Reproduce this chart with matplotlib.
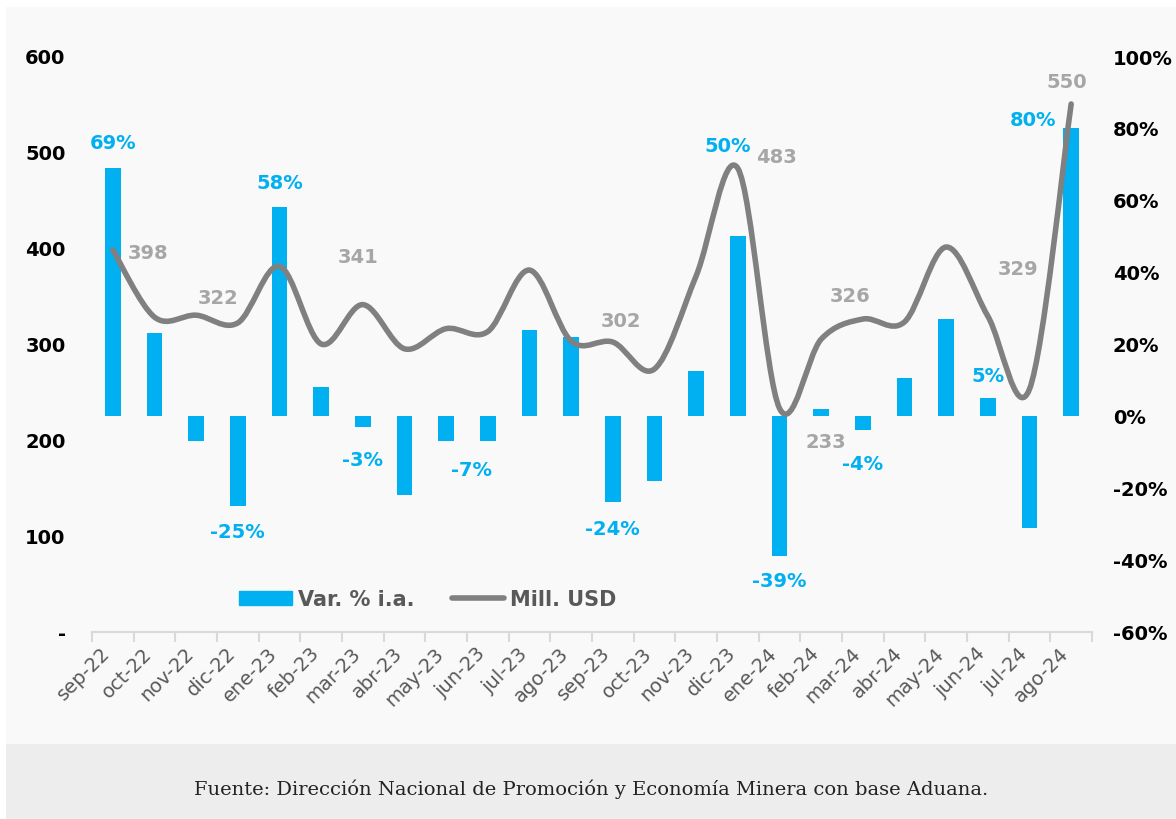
import matplotlib.pyplot as plt
import matplotlib.transforms as mtransforms
import numpy as np
from matplotlib.path import Path
from matplotlib.patches import PathPatch, Rectangle
from matplotlib.lines import Line2D

plt.rcParams['font.family'] = ['DejaVu Sans']

# datos
meses = ['sep-22', 'oct-22', 'nov-22', 'dic-22', 'ene-23', 'feb-23', 'mar-23', 'abr-23',
         'may-23', 'jun-23', 'jul-23', 'ago-23', 'sep-23', 'oct-23', 'nov-23', 'dic-23',
         'ene-24', 'feb-24', 'mar-24', 'abr-24', 'may-24', 'jun-24', 'jul-24', 'ago-24']
var_ia = [69, 23, -7, -25, 58, 8, -3, -22, -7, -7, 24, 22,
          -24, -18, 12.5, 50, -39, 2, -4, 10.5, 27, 5, -31, 80]
mill_usd = [398, 328, 330, 322, 381, 300, 341, 295, 316, 313, 377, 303,
            302, 274, 371, 483, 233, 305, 326, 323, 401, 329, 253, 550]

# etiquetas visibles: indice -> desplazamiento (px)
bar_lbl = {0: (0, 25), 4: (0, 25), 15: (-10, 90), 23: (-38, 8), 21: (0, 22),
           3: (0, -26), 6: (0, -33), 9: (-16, -28), 12: (0, -26), 16: (0, -24), 18: (0, -33)}
line_lbl = {0: (35, -3), 3: (-20, 25), 6: (-5, 48), 12: (8, 22), 15: (39, 12),
            16: (46, -33), 18: (-13, 24), 21: (30, 48), 23: (-4, 22)}

AZUL = '#00B0F0'
GRIS = '#808080'

fig = plt.figure(figsize=(11.76, 8.2), dpi=100)
fig.patches.append(Rectangle((6 / 1176, 75 / 820), 1, 737 / 820, transform=fig.transFigure,
                             facecolor='#F9F9F9', edgecolor='none', zorder=-10))
fig.patches.append(Rectangle((6 / 1176, 0), 1, 75 / 820, transform=fig.transFigure,
                             facecolor='#EDEDED', edgecolor='none', zorder=-10))

ax = fig.add_axes([92 / 1176, 1 - 633 / 820, 1000 / 1176, 576 / 820])
ax.patch.set_visible(False)
x = np.arange(len(meses))
ax.bar(x, var_ia, width=0.38, color=AZUL, zorder=2)
ax.set_xlim(-0.5, len(meses) - 0.5)
ax.set_ylim(-60, 100)

ax2 = ax.twinx()
ax2.set_ylim(0, 600)

ax.yaxis.tick_right()
ax.set_yticks(np.arange(-60, 101, 20))
ax.set_yticklabels([f'{v}%' for v in range(-60, 101, 20)])
ax2.yaxis.tick_left()
ax2.set_yticks(np.arange(0, 601, 100))
ax2.set_yticklabels(['-'] + [str(v) for v in range(100, 601, 100)])

# curva suavizada (bezier a partir de los puntos)
pts = np.column_stack([x, mill_usd]).astype(float)
verts = [pts[0]]
codes = [Path.MOVETO]
n = len(pts)
for i in range(n - 1):
    p0 = pts[max(i - 1, 0)]
    p1 = pts[i]
    p2 = pts[i + 1]
    p3 = pts[min(i + 2, n - 1)]
    verts += [p1 + (p2 - p0) / 6, p2 - (p3 - p1) / 6, p2]
    codes += [Path.CURVE4] * 3
ax2.add_patch(PathPatch(Path(verts, codes), fill=False, edgecolor=GRIS, lw=4,
                        capstyle='round', joinstyle='round', zorder=3))

for a in (ax, ax2):
    for s in a.spines.values():
        s.set_visible(False)
    a.tick_params(axis='y', length=0, labelsize=14)
    for t in a.get_yticklabels():
        t.set_fontweight('bold')
ax.tick_params(axis='y', pad=15, labelleft=False, labelright=True)
ax2.tick_params(axis='y', pad=19, labelleft=True, labelright=False)

ax.spines['bottom'].set_visible(True)
ax.spines['bottom'].set_color('#D9D9D9')
ax.spines['bottom'].set_linewidth(1.5)
ax.set_xticks(x)
ax.set_xticklabels(meses, rotation=45, ha='right', rotation_mode='anchor',
                   color='#595959', fontsize=14)
ax.tick_params(axis='x', length=0, pad=8)
ax.set_xticks(np.arange(-0.5, len(meses)), minor=True)
ax.tick_params(axis='x', which='minor', length=7, width=1.5, color='#D9D9D9')
shift = mtransforms.ScaledTranslation(-12 / 100, 0, fig.dpi_scale_trans)
for t in ax.get_xticklabels():
    t.set_transform(t.get_transform() + shift)

for i, (dx, dy) in bar_lbl.items():
    v = var_ia[i]
    ax.annotate(f'{v:.0f}%', (x[i], v), xytext=(dx, dy), textcoords='offset pixels',
                ha='center', va='center', color=AZUL, fontsize=14, fontweight='bold', zorder=5)
for i, (dx, dy) in line_lbl.items():
    v = mill_usd[i]
    ax2.annotate(f'{v}', (x[i], v), xytext=(dx, dy), textcoords='offset pixels',
                 ha='center', va='center', color='#A6A6A6', fontsize=14, fontweight='bold', zorder=5)

handles = [Rectangle((0, 0), 1, 1, color=AZUL),
           Line2D([], [], color=GRIS, lw=4, solid_capstyle='round')]
leg = ax2.legend(handles, ['Var. % i.a.', 'Mill. USD'], loc='center',
                 bbox_to_anchor=(0.336, 0.057), ncol=2, frameon=False,
                 prop={'size': 15, 'weight': 'bold'}, handlelength=2.5,
                 handletextpad=0.3, columnspacing=1.8)
for t in leg.get_texts():
    t.set_color('#595959')

fig.text(591 / 1176, 1 - 789 / 820,
         'Fuente: Dirección Nacional de Promoción y Economía Minera con base Aduana.',
         ha='center', va='center', fontsize=14, family='DejaVu Serif', color='#222222')

fig.savefig('out.png', dpi=100)
